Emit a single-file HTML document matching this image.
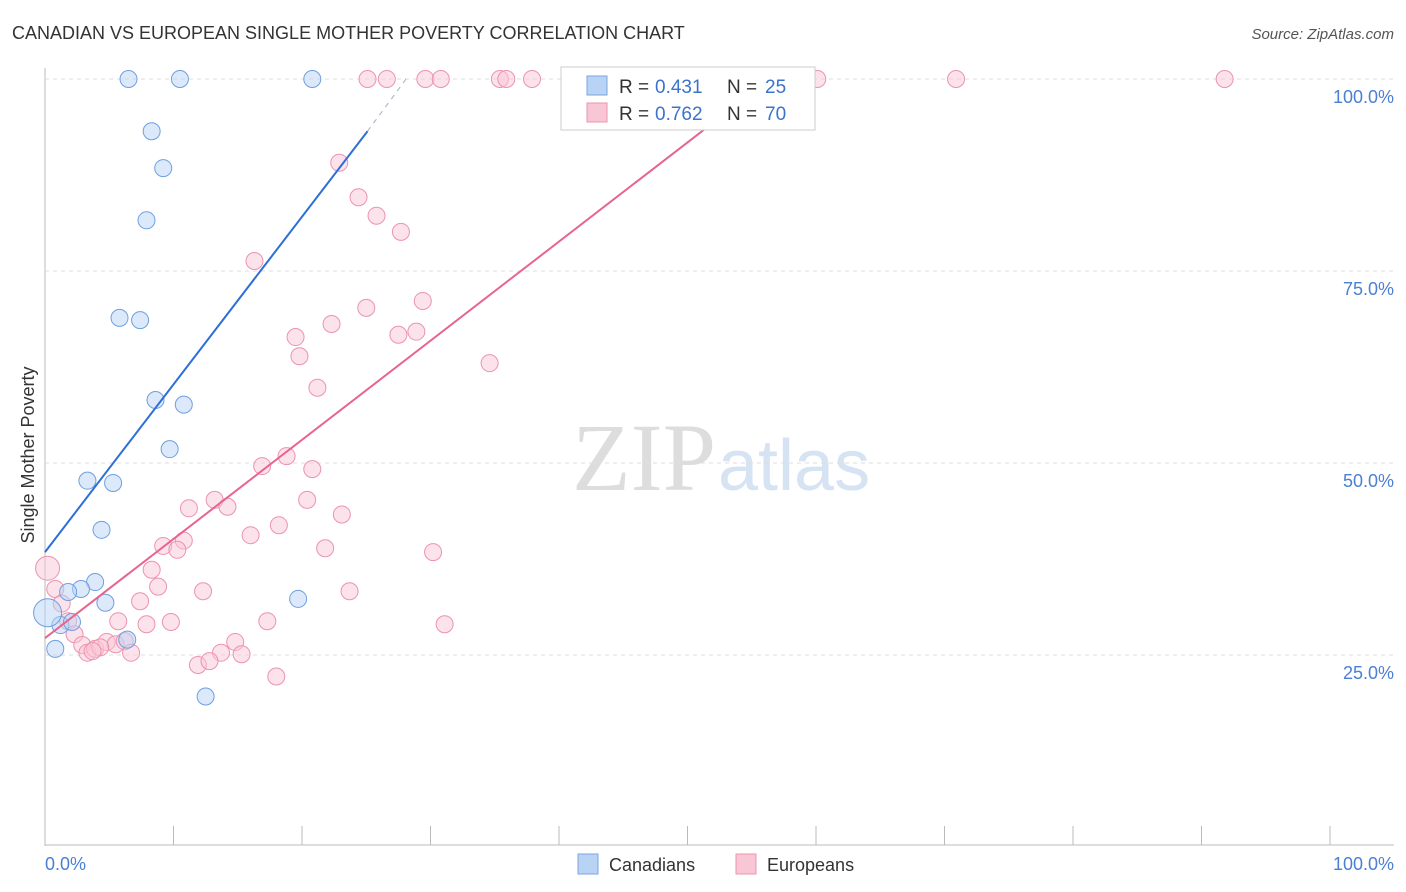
<!DOCTYPE html>
<html><head><meta charset="utf-8">
<style>
body{margin:0;background:#fff;font-family:"Liberation Sans",sans-serif;}
#wrap{position:relative;width:1406px;height:892px;overflow:hidden;}
</style></head>
<body>
<div id="wrap">
<svg id="svg" width="1406" height="892">
<text x="12" y="39" font-size="18" fill="#333">CANADIAN VS EUROPEAN SINGLE MOTHER POVERTY CORRELATION CHART</text>
<text x="1394" y="39" font-size="15" fill="#555" font-style="italic" text-anchor="end">Source: ZipAtlas.com</text>
<text x="716" y="490" font-size="96" fill="#ddd" text-anchor="end" font-family="Liberation Serif">ZIP</text>
<text x="718" y="490" font-size="72" fill="#d6e3f3">atlas</text>
<text transform="translate(34,455) rotate(-90)" font-size="18" fill="#333" text-anchor="middle">Single Mother Poverty</text>
<g id="grid"></g><g id="marks"></g>
<text x="45" y="870" font-size="18" fill="#4a7fd4">0.0%</text>
<text x="1394" y="870" font-size="18" fill="#4a7fd4" text-anchor="end">100.0%</text>
<g>
<rect x="561" y="67" width="254" height="63" fill="#fff" stroke="#ccc"/>
<rect x="587" y="76" width="20" height="19" fill="#b9d3f5" stroke="#7aa6e0"/>
<rect x="587" y="103" width="20" height="19" fill="#f9c6d6" stroke="#ec93b0"/>
<text y="93" font-size="19" fill="#333"><tspan x="619">R =</tspan><tspan x="655" fill="#3b73cc">0.431</tspan><tspan x="727">N =</tspan><tspan x="765" fill="#3b73cc">25</tspan></text>
<text y="120" font-size="19" fill="#333"><tspan x="619">R =</tspan><tspan x="655" fill="#3b73cc">0.762</tspan><tspan x="727">N =</tspan><tspan x="765" fill="#3b73cc">70</tspan></text>
</g>
<g>
<rect x="578" y="854" width="20" height="20" fill="#b9d3f5" stroke="#7aa6e0"/>
<text x="609" y="871" font-size="18" fill="#333">Canadians</text>
<rect x="736" y="854" width="20" height="20" fill="#f9c6d6" stroke="#ec93b0"/>
<text x="767" y="871" font-size="18" fill="#333">Europeans</text>
</g>
</svg>
</div>
<script>
const yTicks=[25,50,75,100];
const yTickLabels=["25.0%","50.0%","75.0%","100.0%"];
const xTicks=[0,10,20,30,40,50,60,70,80,90,100];
const canX=[6.5,10.5,20.8,8.3,9.2,7.9,5.8,7.4,8.6,10.8,9.7,3.3,5.3,4.4,3.9,2.8,1.8,4.7,19.7,1.2,0.8,6.4,12.5,0.2,2.1];
const canY=[100,100,100,93.2,88.4,81.6,68.9,68.6,58.2,57.6,51.8,47.7,47.4,41.3,34.5,33.6,33.2,31.8,32.3,28.9,25.8,27.0,19.6,30.5,29.3];
const eurX=[25.1,26.6,29.6,30.8,35.4,35.9,37.9,50.0,60.1,70.9,91.8,22.9,24.4,25.8,27.7,16.3,29.4,25.0,22.3,19.5,27.5,28.9,19.8,34.6,21.2,18.8,16.9,20.8,20.4,13.2,11.2,14.2,23.1,18.2,16.0,10.8,9.2,10.3,21.8,30.2,8.3,8.8,12.3,23.7,7.4,5.7,7.9,9.8,17.3,31.1,0.2,0.8,1.3,1.8,2.3,2.9,3.3,3.9,4.8,5.5,6.2,6.7,14.8,13.7,15.3,11.9,12.8,18.0,4.3,3.7];
const eurY=[100,100,100,100,100,100,100,100,100,100,100,89.1,84.6,82.2,80.1,76.3,71.1,70.2,68.1,66.4,66.7,67.1,63.9,63.0,59.8,50.9,49.6,49.2,45.2,45.2,44.1,44.3,43.3,41.9,40.6,39.9,39.2,38.7,38.9,38.4,36.1,33.9,33.3,33.3,32.0,29.4,29.0,29.3,29.4,29.0,36.3,33.6,31.7,29.4,27.7,26.3,25.3,25.8,26.7,26.4,26.8,25.3,26.7,25.3,25.1,23.7,24.2,22.2,26.0,25.5];
const canLine=[[0,38.4],[25.1,93.2],[28.1,100]];
const eurLine=[[0,27.2],[56.4,100]];
const sx=v=>45+v*12.85, sy=v=>847-v*7.68;
const NS="http://www.w3.org/2000/svg";
const grid=document.getElementById('grid'), marks=document.getElementById('marks');
function mk(tag,attrs,parent){const e=document.createElementNS(NS,tag);for(const k in attrs)e.setAttribute(k,attrs[k]);parent.appendChild(e);return e;}
const ax=mk('line',{x1:45,y1:68,x2:45,y2:846,stroke:'#bbb'},grid);


const bx=mk('line',{x1:45,y1:845,x2:1394,y2:845,stroke:'#bbb'},grid);


yTicks.forEach((t,i)=>{
 const l=mk('line',{x1:45,y1:sy(t),x2:1394,y2:sy(t),stroke:'#ddd','stroke-dasharray':'4,4'},grid);
 
 
 const tx=mk('text',{x:1394,y:sy(t)+24,'font-size':18,fill:'#4a7fd4','text-anchor':'end'},grid);
 tx.textContent=yTickLabels[i];
 
 
});
xTicks.forEach(t=>{
 const l=mk('line',{x1:sx(t),y1:826,x2:sx(t),y2:845,stroke:'#bbb'},grid);
 
 
});
eurX.forEach((x,i)=>{
 const big=i===50;
 const c=mk('circle',{cx:sx(x),cy:sy(eurY[i]),r:big?12:8.5,fill:'#f9c6d6','fill-opacity':0.5,stroke:'#ec93b0','stroke-width':1},marks);
 
 
});
canX.forEach((x,i)=>{
 const big=i===23;
 const c=mk('circle',{cx:sx(x),cy:sy(canY[i]),r:big?14:8.5,fill:'#b9d3f5','fill-opacity':0.5,stroke:'#6f9fe0','stroke-width':1},marks);
 
 
});
const cl=mk('line',{x1:sx(canLine[0][0]),y1:sy(canLine[0][1]),x2:sx(canLine[1][0]),y2:sy(canLine[1][1]),stroke:'#2c6fd6','stroke-width':2},marks);


const cd=mk('line',{x1:sx(canLine[1][0]),y1:sy(canLine[1][1]),x2:sx(canLine[2][0]),y2:sy(canLine[2][1]),stroke:'#aac','stroke-width':1,'stroke-dasharray':'5,5'},marks);


const el=mk('line',{x1:sx(eurLine[0][0]),y1:sy(eurLine[0][1]),x2:sx(eurLine[1][0]),y2:sy(eurLine[1][1]),stroke:'#e8648f','stroke-width':2},marks);


</script>
</body></html>
